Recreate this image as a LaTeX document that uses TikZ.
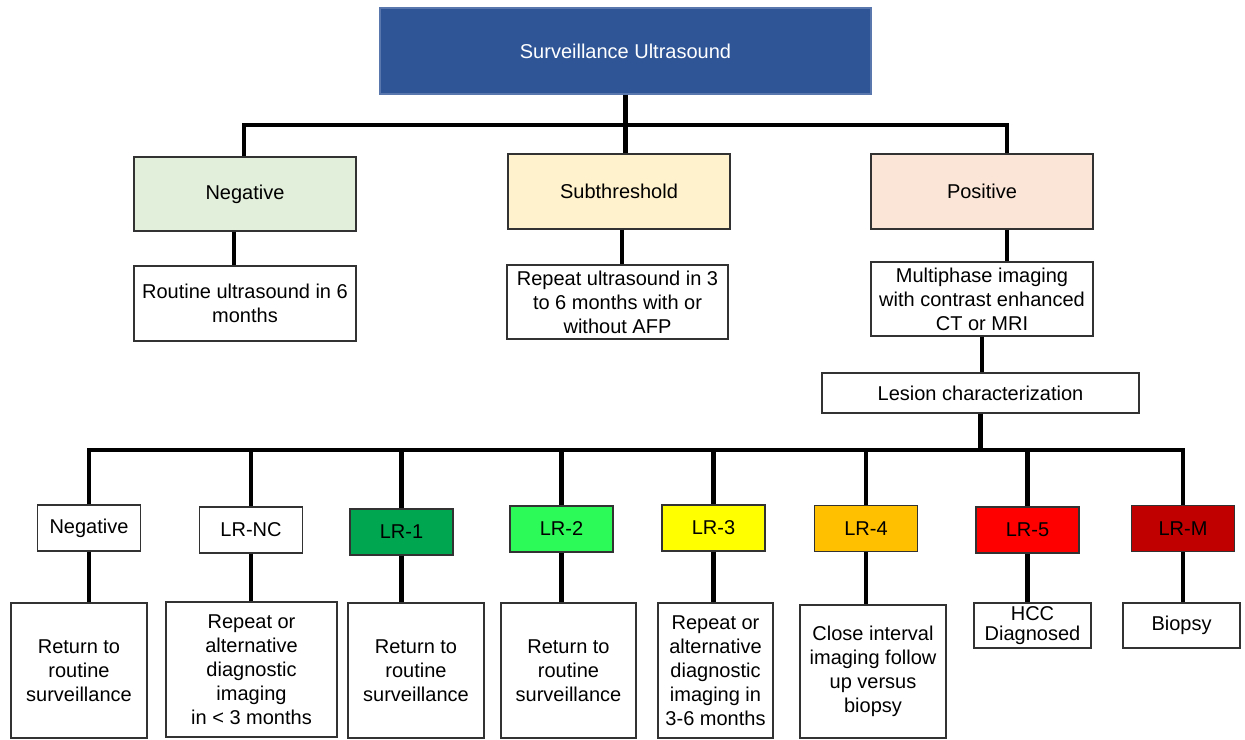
\documentclass[tikz,border=0pt]{standalone}
\usepackage{fontspec}
\setmainfont{Liberation Sans}
\definecolor{topblue}{RGB}{47,85,151}
\definecolor{neggreen}{RGB}{226,239,218}
\definecolor{subyellow}{RGB}{255,242,204}
\definecolor{pospink}{RGB}{251,229,214}
\definecolor{lrone}{RGB}{0,166,80}
\definecolor{lrtwo}{RGB}{44,250,88}
\definecolor{lrthree}{RGB}{255,255,0}
\definecolor{lrfour}{RGB}{255,192,0}
\definecolor{lrfive}{RGB}{255,0,0}
\definecolor{lrm}{RGB}{192,0,0}
\definecolor{edge}{RGB}{50,50,50}
\tikzset{
  bx/.style={draw=edge, line width=0.7pt, fill=white, align=center, inner sep=0pt,
    font=\fontsize{10}{12}\selectfont},
  lbl/.style={bx, minimum width=51.5pt, minimum height=23pt},
  conn/.style={line width=2.2pt, black, line join=miter},
}
\begin{document}
\begin{tikzpicture}[x=0.5pt,y=-0.5pt]
\useasboundingbox (0,0) rectangle (1245,739);
% top level
\node[bx, fill=topblue, draw=topblue!80!white, text=white, minimum width=245.5pt, minimum height=43pt] (top) at (625.5,51) {Surveillance Ultrasound};
\node[bx, fill=neggreen, minimum width=111pt, minimum height=37pt] (neg) at (245,194) {Negative};
\node[bx, fill=subyellow, minimum width=111pt, minimum height=37.5pt] (sub) at (619,191.5) {Subthreshold};
\node[bx, fill=pospink, minimum width=111pt, minimum height=37.5pt] (pos) at (982,191.5) {Positive};
\node[bx, minimum width=111pt, minimum height=37.5pt] (routine) at (245,303.5) {Routine ultrasound in 6\\months};
\node[bx, minimum width=110.5pt, minimum height=37pt] (repeat) at (617.5,302) {Repeat ultrasound in 3\\to 6 months with or\\without AFP};
\node[bx, minimum width=111pt, minimum height=37pt] (multi) at (982,299) {Multiphase imaging\\with contrast enhanced\\CT or MRI};
\node[bx, minimum width=158.5pt, minimum height=20pt] (lesion) at (980.5,393) {Lesion characterization};
% label row
\node[lbl] (bneg) at (89,528) {Negative};
\node[lbl] (lrnc) at (251,530) {LR-NC};
\node[lbl, fill=lrone] (lr1) at (401.5,532) {LR-1};
\node[lbl, fill=lrtwo] (lr2) at (561.5,529) {LR-2};
\node[lbl, fill=lrthree] (lr3) at (713.5,528) {LR-3};
\node[lbl, fill=lrfour] (lr4) at (866,528.5) {LR-4};
\node[lbl, fill=lrfive] (lr5) at (1027.5,530) {LR-5};
\node[lbl, fill=lrm] (lrM) at (1183,528.5) {LR-M};
% detail row
\node[bx, minimum width=68pt, minimum height=67.5pt] (d1) at (79,670.5) {Return to\\routine\\surveillance};
\node[bx, minimum width=85.5pt, minimum height=67.5pt] (d2) at (251.5,669.5) {Repeat or\\alternative\\diagnostic\\imaging\\in {\textless} 3 months};
\node[bx, minimum width=68pt, minimum height=67.5pt] (d3) at (416,670.5) {Return to\\routine\\surveillance};
\node[bx, minimum width=67.5pt, minimum height=67.5pt] (d4) at (568.5,670.5) {Return to\\routine\\surveillance};
\node[bx, minimum width=57.5pt, minimum height=67.5pt] (d5) at (715.5,670.5) {Repeat or\\alternative\\diagnostic\\imaging in\\3-6 months};
\node[bx, minimum width=73pt, minimum height=66.5pt] (d6) at (873,671.5) {Close interval\\imaging follow\\up versus\\biopsy};
\node[bx, minimum width=58.5pt, minimum height=22.5pt, font=\fontsize{10}{10}\selectfont] (d7) at (1032.5,625.5) {HCC\\Diagnosed};
\node[bx, minimum width=58.5pt, minimum height=22.5pt] (d8) at (1181.5,625.5) {Biopsy};
% connectors
\coordinate (b1L) at (244,125);
\coordinate (b1R) at (1007,125);
\coordinate (b2) at (0,450);
\draw[conn] (top.south) -- (top.south |- sub.north);
\draw[conn] (b1L |- neg.north) -- (b1L) -- (b1R) -- (b1R |- pos.north);
\draw[conn] ([xshift=-5.5pt]neg.south) -- ([xshift=-5.5pt]neg.south |- routine.north);
\draw[conn] ([xshift=1.5pt]sub.south) -- ([xshift=1.5pt]sub.south |- repeat.north);
\draw[conn] ([xshift=12.5pt]pos.south) -- ([xshift=12.5pt]pos.south |- multi.north);
\draw[conn] (multi.south) -- (multi.south |- lesion.north);
\draw[conn] (lesion.south) -- (lesion.south |- b2);
\draw[conn] (bneg.north) -- (bneg.north |- b2) -- (lrM.north |- b2) -- (lrM.north);
\foreach \n in {lrnc,lr1,lr2,lr3,lr4,lr5}{
  \draw[conn] (\n.north |- b2) -- (\n.north);
}
\foreach \a/\b in {bneg/d1,lrnc/d2,lr1/d3,lr2/d4,lr3/d5,lr4/d6,lr5/d7,lrM/d8}{
  \draw[conn] (\a.south) -- (\a.south |- \b.north);
}
\end{tikzpicture}
\end{document}
